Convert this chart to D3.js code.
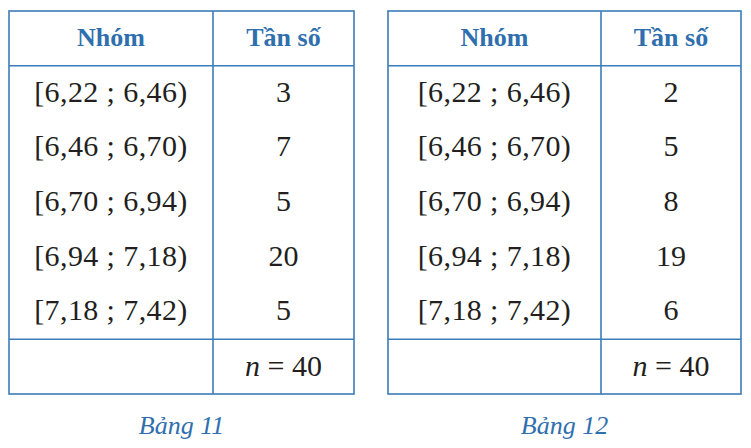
<!DOCTYPE html>
<html>
<head>
<meta charset="utf-8">
<script src="https://cdn.jsdelivr.net/npm/d3@7"></script>
<style>
  body { margin: 0; background: #fff; }
  svg text { font-family: "Liberation Serif", "Times New Roman", Times, "DejaVu Serif", serif; }
</style>
</head>
<body>
<div id="viz"></div>
<script>
// table data
const groups = ["[6,22 ; 6,46)", "[6,46 ; 6,70)", "[6,70 ; 6,94)", "[6,94 ; 7,18)", "[7,18 ; 7,42)"];
const freq11 = [3, 7, 5, 20, 5];
const freq12 = [2, 5, 8, 19, 6];
const headers = ["Nhóm", "Tần số"];
const captions = ["Bảng 11", "Bảng 12"];
const totalN = 40;

const blue = "#2f6fae";
const lineBlue = "#3d7cba";

const svg = d3.select("#viz")
    .append("svg")
    .attr("width", 751)
    .attr("height", 448)
    .attr("viewBox", [0, 0, 751, 448]);

// rows: header, 5 groups, total
const rowKeys = ["head"].concat(groups).concat(["total"]);
const y = d3.scaleBand().domain(rowKeys).range([11, 394]);

function drawTable(x0, x1, x2, freqs, caption) {
    const g = svg.append("g");

    // header text
    g.selectAll("text.head")
        .data(headers)
        .join("text")
        .attr("class", "head")
        .attr("x", (d, i) => i === 0 ? (x0 + x1) / 2 : (x1 + x2) / 2)
        .attr("y", y("head") + y.bandwidth() / 2 - 1)
        .attr("dy", "0.35em")
        .attr("text-anchor", "middle")
        .attr("font-weight", "bold")
        .attr("font-size", 26)
        .attr("fill", blue)
        .text((d) => d);

    // group labels
    g.selectAll("text.grp")
        .data(groups)
        .join("text")
        .attr("class", "grp")
        .attr("x", (x0 + x1) / 2)
        .attr("y", (d) => y(d) + y.bandwidth() / 2 - 2)
        .attr("dy", "0.35em")
        .attr("text-anchor", "middle")
        .attr("font-size", 30)
        .attr("letter-spacing", 0.4)
        .attr("fill", "#231f20")
        .text((d) => d);

    // frequencies
    g.selectAll("text.freq")
        .data(freqs)
        .join("text")
        .attr("class", "freq")
        .attr("x", (x1 + x2) / 2)
        .attr("y", (d, i) => y(groups[i]) + y.bandwidth() / 2 - 2)
        .attr("dy", "0.35em")
        .attr("text-anchor", "middle")
        .attr("font-size", 30)
        .attr("fill", "#231f20")
        .text((d) => d);

    // total row
    const tot = g.append("text")
        .attr("x", (x1 + x2) / 2)
        .attr("y", y("total") + y.bandwidth() / 2 - 1)
        .attr("dy", "0.35em")
        .attr("text-anchor", "middle")
        .attr("font-size", 30)
        .attr("fill", "#231f20");
    tot.append("tspan").attr("font-style", "italic").text("n");
    tot.append("tspan").text(" = " + totalN);

    // grid lines
    const lines = g.append("g")
        .attr("stroke", lineBlue)
        .attr("stroke-width", 1.6)
        .attr("fill", "none");

    lines.append("rect")
        .attr("x", x0)
        .attr("y", y.range()[0])
        .attr("width", x2 - x0)
        .attr("height", y.range()[1] - y.range()[0]);

    lines.append("line")
        .attr("x1", x1).attr("x2", x1)
        .attr("y1", y.range()[0]).attr("y2", y.range()[1]);

    lines.selectAll("line.h")
        .data(["head", "total"])
        .join("line")
        .attr("class", "h")
        .attr("x1", x0).attr("x2", x2)
        .attr("y1", (d) => d === "head" ? y("head") + y.bandwidth() : y("total"))
        .attr("y2", (d) => d === "head" ? y("head") + y.bandwidth() : y("total"));

    // caption
    svg.append("text")
        .attr("x", (x0 + x2) / 2)
        .attr("y", 425)
        .attr("dy", "0.35em")
        .attr("text-anchor", "middle")
        .attr("font-style", "italic")
        .attr("font-size", 26)
        .attr("fill", blue)
        .text(caption);
}

drawTable(9, 213, 354, freq11, captions[0]);
drawTable(388, 601, 741, freq12, captions[1]);
</script>
</body>
</html>
